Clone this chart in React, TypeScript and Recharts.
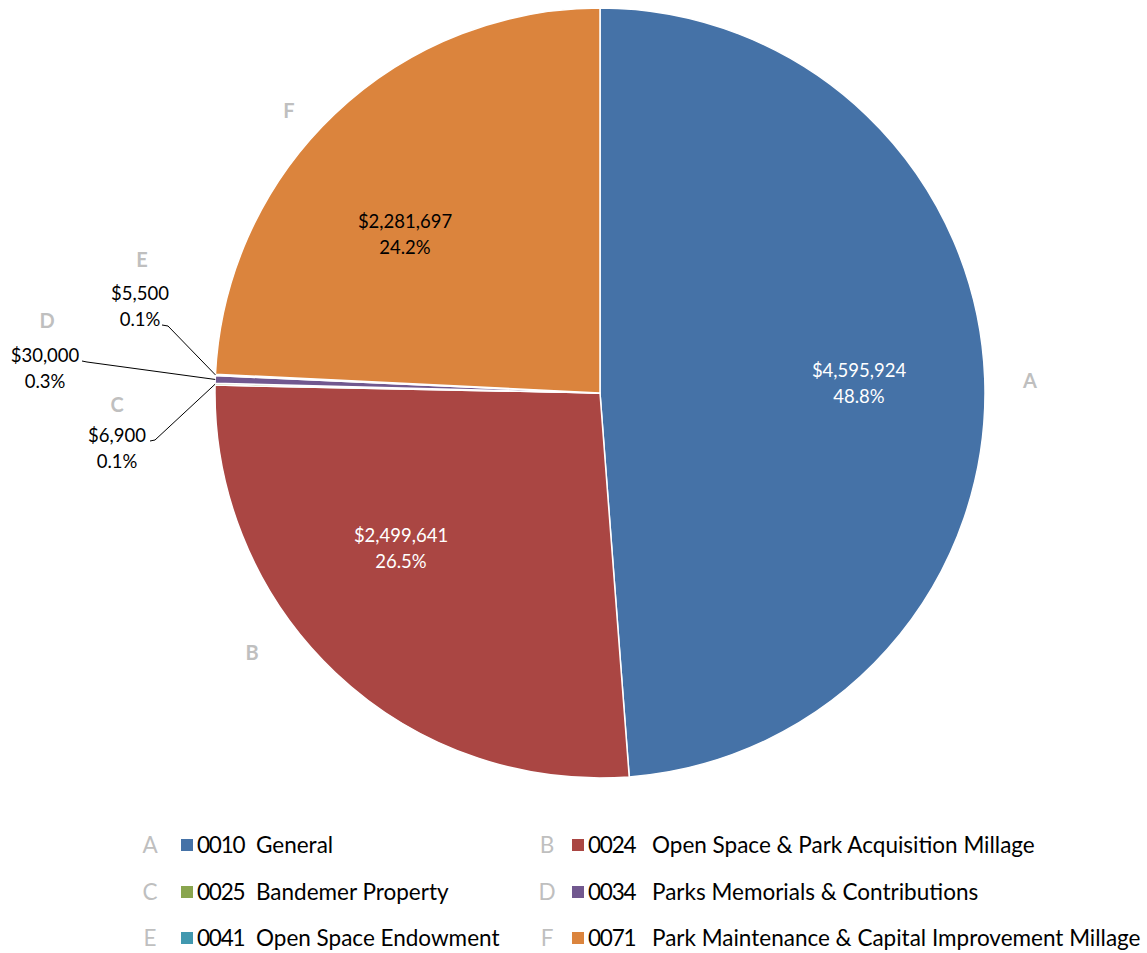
import { PieChart, Pie, Cell, Legend } from 'recharts'

const letters = ['A', 'B', 'C', 'D', 'E', 'F']
const fundCodes = ['0010', '0024', '0025', '0034', '0041', '0071']
const fundNames = [
  'General',
  'Open Space & Park Acquisition Millage',
  'Bandemer Property',
  'Parks Memorials & Contributions',
  'Open Space Endowment',
  'Park Maintenance & Capital Improvement Millage',
]
const amounts = [4595924, 2499641, 6900, 30000, 5500, 2281697]

const colors = ['#4572A7', '#AA4643', '#89A54E', '#71588F', '#4198AF', '#DB843D']
const valueTextColors = ['#ffffff', '#ffffff', '#000000', '#000000', '#000000', '#000000']

const total = amounts.reduce((s, v) => s + v, 0)
const data = letters.map((l, i) => ({
  letter: l,
  name: `${fundCodes[i]} ${fundNames[i]}`,
  value: amounts[i],
}))

const FONT = 'Lato, "Open Sans", sans-serif'
const LETTER_GRAY = '#bfbfbf'

// label placement relative to the pie centre (px)
const letterOffset = [
  [430, -13], [-348, 259], [-483, 11], [-553, -73], [-458, -134], [-311, -283],
]
const valueOffset = [
  [259, -10], [-199, 155], [-483, 55], [-555, -25], [-460, -87], [-195, -159],
]
// elbow of leader line for the thin slices (null = label inside)
const leaderElbow: (number[] | null)[] = [
  null, null, [-450, 48, -445, 47], [-518, -32, -513, -31], [-438, -68, -432, -67], null,
]

const fmt = (v: number) => '$' + v.toLocaleString('en-US')

const renderLabel = (props: any) => {
  const { cx, cy, midAngle, outerRadius, index } = props
  const [lx, ly] = letterOffset[index]
  const [vx, vy] = valueOffset[index]
  const pct = ((amounts[index] / total) * 100).toFixed(1) + '%'
  const elbow = leaderElbow[index]
  const rad = (-midAngle * Math.PI) / 180
  const ex = cx + outerRadius * Math.cos(rad)
  const ey = cy + outerRadius * Math.sin(rad)
  return (
    <g key={`lbl-${index}`}>
      <text
        x={cx + lx}
        y={cy + ly}
        textAnchor="middle"
        dominantBaseline="central"
        fill={LETTER_GRAY}
        fontFamily={FONT}
        fontSize={20}
        fontWeight="bold"
      >
        {letters[index]}
      </text>
      <text
        x={cx + vx}
        y={cy + vy - 13}
        textAnchor="middle"
        dominantBaseline="central"
        fill={valueTextColors[index]}
        fontFamily={FONT}
        fontSize={18.5}
      >
        {fmt(amounts[index])}
      </text>
      <text
        x={cx + vx}
        y={cy + vy + 13}
        textAnchor="middle"
        dominantBaseline="central"
        fill={valueTextColors[index]}
        fontFamily={FONT}
        fontSize={18.5}
      >
        {pct}
      </text>
      {elbow && (
        <polyline
          points={`${cx + elbow[0]},${cy + elbow[1]} ${cx + elbow[2]},${cy + elbow[3]} ${ex},${ey}`}
          fill="none"
          stroke="#000"
          strokeWidth={1}
        />
      )}
    </g>
  )
}

const legendCols = [
  { letterCx: 150, boxX: 181, codeX: 197, nameX: 256 },
  { letterCx: 547, boxX: 572, codeX: 588, nameX: 652 },
]

const renderLegend = () => (
  <div style={{ position: 'relative', width: 1147, height: 133, fontFamily: FONT }}>
    {data.map((d, i) => {
      const col = legendCols[i % 2]
      const rowY = 25 + Math.floor(i / 2) * 46.5
      const txt = {
        position: 'absolute' as const,
        top: rowY - 15,
        lineHeight: '30px',
        fontSize: 22.5,
        whiteSpace: 'pre' as const,
      }
      return (
        <div key={d.letter}>
          <span
            style={{ ...txt, left: col.letterCx - 10, width: 20, textAlign: 'center', color: LETTER_GRAY }}
          >
            {d.letter}
          </span>
          <span
            style={{
              position: 'absolute',
              left: col.boxX,
              top: rowY - 6,
              width: 12,
              height: 12,
              background: colors[i],
            }}
          />
          <span style={{ ...txt, left: col.codeX, letterSpacing: -1.2, color: '#000' }}>{fundCodes[i]}</span>
          <span style={{ ...txt, left: col.nameX, color: '#000' }}>{fundNames[i]}</span>
        </div>
      )
    })}
  </div>
)

export default function App() {
  return (
    <div style={{ position: 'absolute', left: 0, top: 0, background: '#fff' }}>
      <PieChart width={1147} height={953} margin={{ top: 0, right: 0, bottom: 0, left: 0 }}>
        <Pie
          data={data}
          dataKey="value"
          nameKey="name"
          cx={600}
          cy={393}
          outerRadius={385}
          startAngle={90}
          endAngle={-270}
          stroke="#ffffff"
          strokeWidth={1.5}
          label={renderLabel}
          labelLine={false}
          isAnimationActive={false}
        >
          {data.map((d, i) => (
            <Cell key={d.letter} fill={colors[i]} />
          ))}
        </Pie>
        <Legend
          content={renderLegend}
          wrapperStyle={{ position: 'absolute', left: 0, top: 820, width: 1147, height: 133 }}
        />
      </PieChart>
    </div>
  )
}
